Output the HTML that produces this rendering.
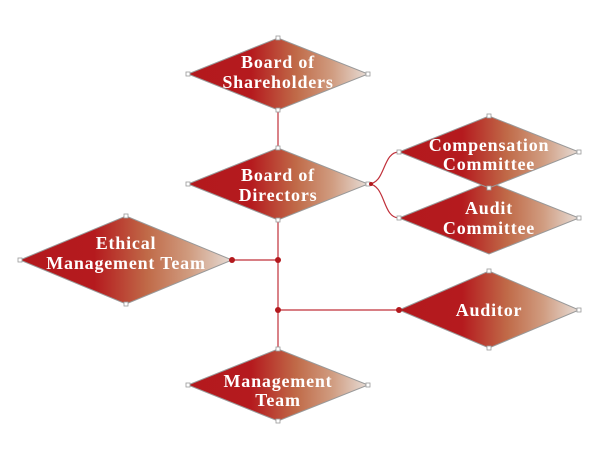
<!DOCTYPE html>
<html><head><meta charset="utf-8"><style>
body{margin:0;background:#fff}
svg text{font-family:"Liberation Serif","DejaVu Serif",serif;fill:#fff;font-size:18px;font-weight:bold;letter-spacing:0.8px;text-anchor:middle}
</style></head><body>
<svg width="600" height="460" viewBox="0 0 600 460" xmlns="http://www.w3.org/2000/svg">
<defs>
<linearGradient id="g" x1="0" y1="0" x2="1" y2="0">
<stop offset="0" stop-color="#b3191d"/>
<stop offset="0.35" stop-color="#b51a1e"/>
<stop offset="0.6" stop-color="#c06a48"/>
<stop offset="0.8" stop-color="#d09c80"/>
<stop offset="1" stop-color="#e6dcd6"/>
</linearGradient>
</defs>
<g stroke="#c0303a" stroke-width="1.2" fill="none">
<line x1="278" y1="110" x2="278" y2="148"/>
<line x1="278" y1="220" x2="278" y2="349"/>
<line x1="232" y1="260" x2="278" y2="260"/>
<line x1="278" y1="310" x2="399" y2="310"/>
<path d="M368 184 C386 184 382 152 399 152"/>
<path d="M368 184 C386 184 382 218 399 218"/>
</g>
<g stroke="#999" stroke-width="1" fill="url(#g)">
<polygon points="188,74 278,38 368,74 278,110"/>
<polygon points="188,184 278,148 368,184 278,220"/>
<polygon points="399,218 489,182 579,218 489,254"/>
<polygon points="399,152 489,116 579,152 489,188"/>
<polygon points="20,260 126,216 232,260 126,304"/>
<polygon points="399,310 489,271 579,310 489,348"/>
<polygon points="188,385 278,349 368,385 278,421"/>
</g>
<g fill="#fff" stroke="#999" stroke-width="0.8">
<rect x="186" y="72" width="4" height="4"/><rect x="276" y="36" width="4" height="4"/><rect x="366" y="72" width="4" height="4"/><rect x="276" y="108" width="4" height="4"/>
<rect x="186" y="182" width="4" height="4"/><rect x="276" y="146" width="4" height="4"/><rect x="366" y="182" width="4" height="4"/><rect x="276" y="218" width="4" height="4"/>
<rect x="397" y="216" width="4" height="4"/><rect x="577" y="216" width="4" height="4"/>
<rect x="397" y="150" width="4" height="4"/><rect x="487" y="114" width="4" height="4"/><rect x="577" y="150" width="4" height="4"/><rect x="487" y="186" width="4" height="4"/>
<rect x="18" y="258" width="4" height="4"/><rect x="124" y="214" width="4" height="4"/><rect x="124" y="302" width="4" height="4"/>
<rect x="487" y="269" width="4" height="4"/><rect x="577" y="308" width="4" height="4"/><rect x="487" y="346" width="4" height="4"/>
<rect x="186" y="383" width="4" height="4"/><rect x="276" y="347" width="4" height="4"/><rect x="366" y="383" width="4" height="4"/><rect x="276" y="419" width="4" height="4"/>
</g>
<g fill="#b3191d">
<circle cx="232" cy="260" r="3"/><circle cx="278" cy="260" r="3"/>
<circle cx="278" cy="310" r="3"/><circle cx="399" cy="310" r="3"/>
<circle cx="371" cy="184" r="2"/>
</g>
<text x="278" y="68">Board of</text><text x="278" y="88">Shareholders</text>
<text x="278" y="181">Board of</text><text x="278" y="201">Directors</text>
<text x="489" y="151">Compensation</text><text x="489" y="170">Committee</text>
<text x="489" y="214">Audit</text><text x="489" y="234">Committee</text>
<text x="126" y="249">Ethical</text><text x="126" y="269">Management Team</text>
<text x="489" y="316">Auditor</text>
<text x="278" y="387">Management</text><text x="278" y="406">Team</text>
</svg>
</body></html>
